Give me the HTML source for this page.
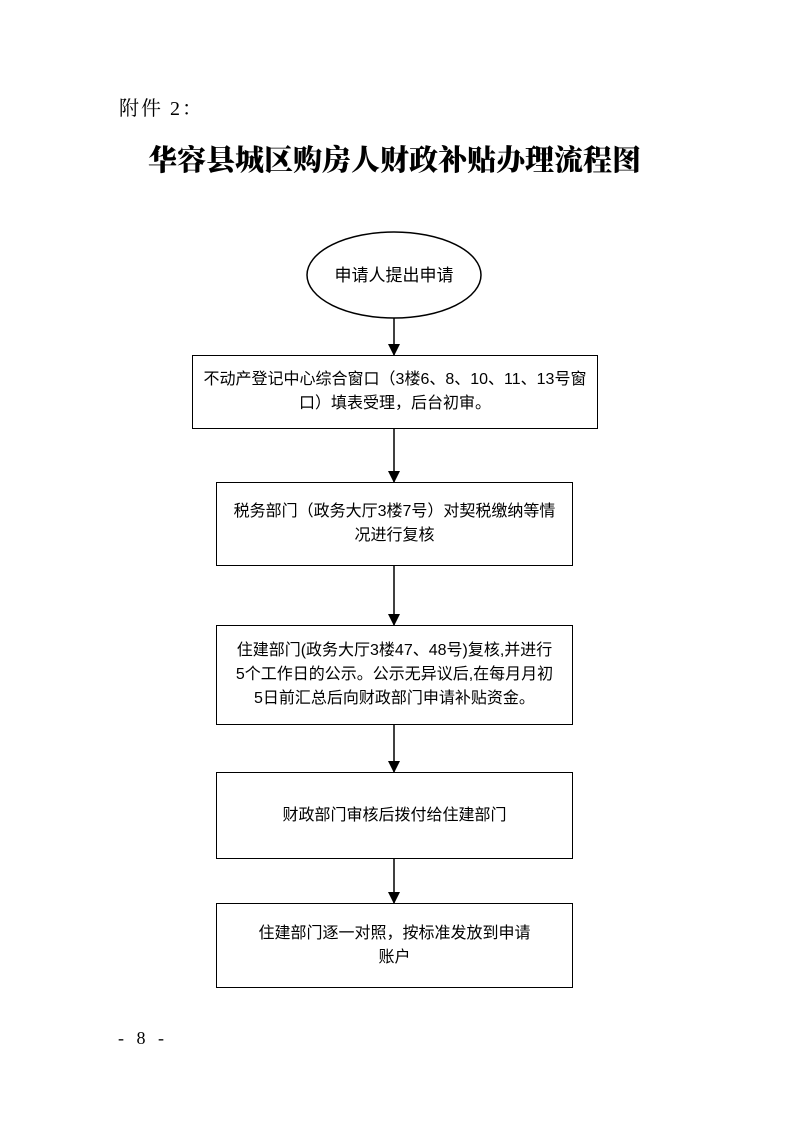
<!DOCTYPE html>
<html><head><meta charset="utf-8"><style>
body{margin:0;background:#fff;}
.page{position:relative;width:793px;height:1122px;overflow:hidden;}
.t{position:absolute;white-space:nowrap;}
.box{position:absolute;border:1.5px solid #000;box-sizing:border-box;display:flex;align-items:center;justify-content:center;text-align:center;font-family:"Liberation Sans","Noto Sans CJK SC",sans-serif;font-size:16px;line-height:24px;color:#000;padding:0 6px;}
</style></head><body><div class="page">
<div class="t" style="left:119px;top:92px;font-family:'Liberation Serif','Noto Serif CJK SC',serif;font-size:20px;letter-spacing:2px;">附件 2：</div>
<div class="t" style="left:148px;top:138px;font-family:'Noto Serif CJK SC',serif;font-weight:900;font-size:29px;">华容县城区购房人财政补贴办理流程图</div>
<svg width="793" height="1122" style="position:absolute;left:0;top:0">
<defs><marker id="a" markerWidth="12" markerHeight="12" refX="11" refY="6" orient="auto" markerUnits="userSpaceOnUse"><path d="M0,0 L12,6 L0,12 Z" fill="#000"/></marker></defs>
<ellipse cx="394" cy="275" rx="87" ry="43" fill="#fff" stroke="#000" stroke-width="1.5"/>
<g stroke="#000" stroke-width="1.5" marker-end="url(#a)">
<line x1="394" y1="318" x2="394" y2="355"/>
<line x1="394" y1="428" x2="394" y2="482"/>
<line x1="394" y1="565" x2="394" y2="625"/>
<line x1="394" y1="724" x2="394" y2="772"/>
<line x1="394" y1="858" x2="394" y2="903"/>
</g>
<text x="394" y="281" text-anchor="middle" font-family="Liberation Sans, Noto Sans CJK SC, sans-serif" font-size="17">申请人提出申请</text>
</svg>
<div class="box" style="left:192px;top:355px;width:406px;height:74px;">不动产登记中心综合窗口（3楼6、8、10、11、13号窗<br>口）填表受理，后台初审。</div>
<div class="box" style="left:216px;top:482px;width:357px;height:84px;">税务部门（政务大厅3楼7号）对契税缴纳等情<br>况进行复核</div>
<div class="box" style="left:216px;top:625px;width:357px;height:100px;">住建部门(政务大厅3楼47、48号)复核,并进行<br>5个工作日的公示。公示无异议后,在每月月初<br>5日前汇总后向财政部门申请补贴资金。</div>
<div class="box" style="left:216px;top:772px;width:357px;height:87px;">财政部门审核后拨付给住建部门</div>
<div class="box" style="left:216px;top:903px;width:357px;height:85px;">住建部门逐一对照，按标准发放到申请<br>账户</div>
<div class="t" style="left:118px;top:1028px;font-family:'Liberation Serif','Noto Serif CJK SC',serif;font-size:18px;letter-spacing:4px;">- 8 -</div>
</div></body></html>
